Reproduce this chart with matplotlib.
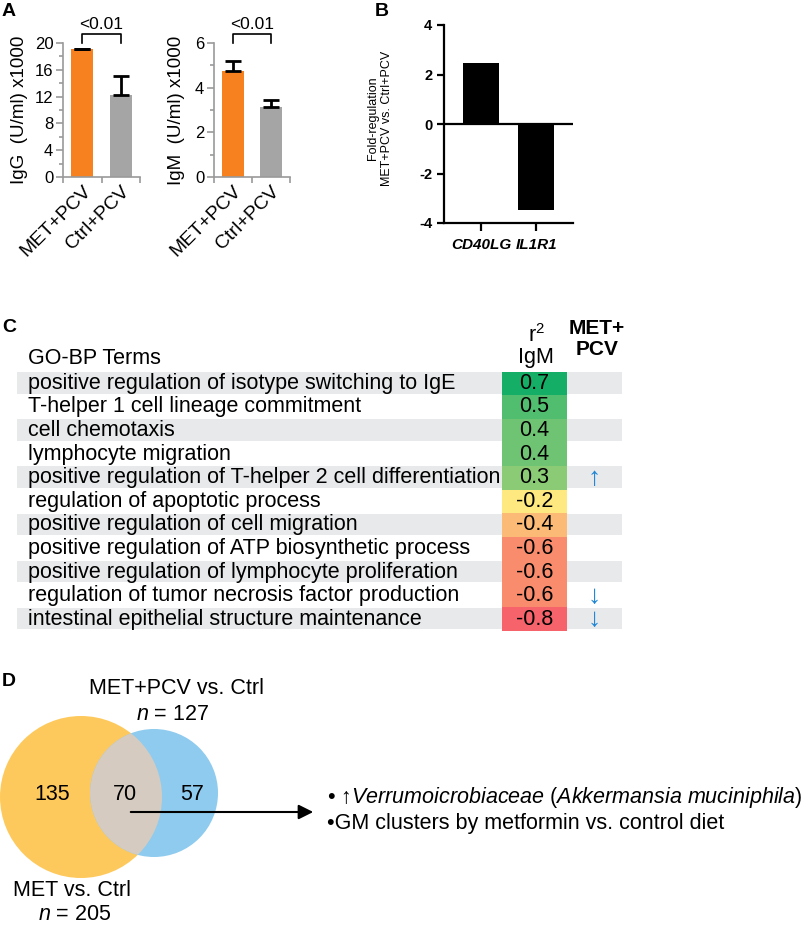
import matplotlib
matplotlib.use("Agg")
import matplotlib.pyplot as plt
import numpy as np
from matplotlib.colors import LinearSegmentedColormap, Normalize
from matplotlib.patches import Circle
from matplotlib.transforms import ScaledTranslation

plt.rcParams['font.family'] = ['Liberation Sans', 'DejaVu Sans']
plt.rcParams['mathtext.fontset'] = 'custom'
plt.rcParams['mathtext.rm'] = 'Liberation Sans'
plt.rcParams['mathtext.it'] = 'Liberation Sans:italic'
plt.rcParams['axes.unicode_minus'] = False

# ---- data ----
groups = ['MET+PCV', 'Ctrl+PCV']
igg_mean = [19.05, 12.2]
igg_err = [0.05, 2.85]
igm_mean = [4.76, 3.14]
igm_err = [0.45, 0.33]
p_label = '<0.01'

genes = ['CD40LG', 'IL1R1']
fold_reg = [2.45, -3.47]

go_terms = ['positive regulation of isotype switching to IgE',
            'T-helper 1 cell lineage commitment',
            'cell chemotaxis',
            'lymphocyte migration',
            'positive regulation of T-helper 2 cell differentiation',
            'regulation of apoptotic process',
            'positive regulation of cell migration',
            'positive regulation of ATP biosynthetic process',
            'positive regulation of lymphocyte proliferation',
            'regulation of tumor necrosis factor production',
            'intestinal epithelial structure maintenance']
r2_igm = [0.7, 0.5, 0.4, 0.4, 0.3, -0.2, -0.4, -0.6, -0.6, -0.6, -0.8]
met_pcv_dir = ['', '', '', '', '\u2191', '', '', '', '', '\u2193', '\u2193']

venn_only_met = 135
venn_shared = 70
venn_only_pcv = 57
venn_notes = ['\u2022 \u2191$\\mathit{Verrumoicrobiaceae}$ ($\\mathit{Akkermansia\\ muciniphila}$)',
              '\u2022GM clusters by metformin vs. control diet']

W, H = 809, 926
fig = plt.figure(figsize=(W / 100, H / 100), dpi=100)


def rect(l, t, r, b):
    return [l / W, 1 - b / H, (r - l) / W, (b - t) / H]


# pixel overlay for labels, table and venn
ov = fig.add_axes([0, 0, 1, 1])
ov.set_xlim(0, W)
ov.set_ylim(H, 0)
ov.axis('off')

orange = '#f7801f'
grey = '#a5a5a5'
axcol = '#9a9a9a'


def igbar(pos, means, errs, ymax, step, ylabel, labx):
    ax = fig.add_axes(rect(*pos))
    x = np.arange(len(groups))
    ax.bar(x, means, width=0.56, color=[orange, grey], zorder=2)
    ax.errorbar(x, means, yerr=[np.zeros(len(errs)), errs], fmt='none', ecolor='k',
                elinewidth=2, capsize=6, capthick=2, zorder=3)
    ax.set_xlim(-0.5, 1.5)
    ax.set_ylim(0, ymax)
    ax.set_yticks(np.arange(0, ymax + 0.01, step))
    ax.set_yticks(np.arange(step / 2, ymax, step), minor=True)
    ax.set_xticks([-0.5, 0.5, 1.5], minor=True)
    ax.set_xticks(x)
    ax.set_xticklabels(groups, rotation=45, ha='right', va='top', rotation_mode='anchor', fontsize=14)
    off = ScaledTranslation(9 / 100, -2 / 100, fig.dpi_scale_trans)
    for lb in ax.get_xticklabels():
        lb.set_transform(lb.get_transform() + off)
    ax.tick_params(axis='x', which='major', length=0, pad=4)
    ax.tick_params(axis='x', which='minor', length=4, color=axcol, width=1.2)
    ax.tick_params(axis='y', which='major', length=5, color=axcol, width=1.2, labelsize=12, pad=2)
    ax.tick_params(axis='y', which='minor', length=3, color=axcol, width=1.2)
    for s in ['top', 'right']:
        ax.spines[s].set_visible(False)
    for s in ['left', 'bottom']:
        ax.spines[s].set_color(axcol)
        ax.spines[s].set_linewidth(1.2)
    ax.set_ylabel(ylabel, fontsize=13.5)
    ax.yaxis.set_label_coords(labx, 0.5)
    # significance bracket
    top = ymax * 1.07
    ax.plot([0, 0, 1, 1], [ymax, top, top, ymax], color='k', lw=1.2, clip_on=False)
    ax.text(0.5, top + ymax * 0.01, p_label, ha='center', va='bottom', fontsize=12.5)
    ax.patch.set_alpha(0)
    return ax


igbar((63, 43, 140, 177), igg_mean, igg_err, 20, 4, 'IgG  (U/ml) x1000', -0.45)
igbar((214, 43, 290, 177), igm_mean, igm_err, 6, 2, 'IgM  (U/ml) x1000', -0.38)

# ---- panel B ----
axb = fig.add_axes(rect(444, 25, 573, 223))
xb = np.arange(len(genes))
axb.bar(xb, fold_reg, width=0.65, color='k')
axb.axhline(0, color='k', lw=1.6)
axb.set_xlim(-0.67, 1.67)
axb.set_ylim(-4, 4)
axb.set_yticks([-4, -2, 0, 2, 4])
axb.set_xticks(xb)
axb.set_xticklabels(genes, fontsize=11, fontweight='bold', style='italic')
axb.tick_params(axis='y', length=5, width=1.6, labelsize=10.5)
axb.tick_params(axis='x', length=6, width=1.6, pad=5)
for lb in axb.get_yticklabels():
    lb.set_fontweight('bold')
for s in ['top', 'right']:
    axb.spines[s].set_visible(False)
for s in ['left', 'bottom']:
    axb.spines[s].set_linewidth(1.6)
axb.patch.set_alpha(0)
ov.text(380, 118, 'Fold-regulation\nMET+PCV vs. Ctrl+PCV', rotation=90, ha='center', va='center',
        fontsize=9, linespacing=1.25)

# panel letters
for lt, (px, py) in zip('ABCD', [(2, 12), (375, 12), (2, 327), (2, 681)]):
    ov.text(px, py, lt, fontsize=14, fontweight='bold', ha='left', va='center')

# ---- panel C ----
axc = fig.add_axes(rect(17, 371.6, 622, 631))
n = len(go_terms)
axc.set_xlim(17, 622)
axc.set_ylim(n, 0)
axc.axis('off')
for i in range(0, n, 2):
    axc.axhspan(i + 0.02, i + 0.93, color='#e8e9eb', lw=0, zorder=0)
cmap = LinearSegmentedColormap.from_list(
    'r2', [(0.0, '#f6636a'), (0.2 / 1.5, '#f88c6c'), (0.6 / 1.5, '#fde97f'),
           (1.1 / 1.5, '#8ccb76'), (1.0, '#14ae67')])
axc.pcolormesh([502, 567], np.arange(n + 1), np.array(r2_igm).reshape(-1, 1),
               cmap=cmap, norm=Normalize(-0.8, 0.7), zorder=1)
for i, (term, v, d) in enumerate(zip(go_terms, r2_igm, met_pcv_dir)):
    axc.text(28, i + 0.5, term, fontsize=15.5, va='center', ha='left', zorder=2)
    axc.text(534.5, i + 0.5, f'{v:.1f}', fontsize=15.5, va='center', ha='center', zorder=2)
    if d:
        axc.text(594, i + 0.5, d, fontsize=19, va='center', ha='center', color='#1f86d6', zorder=2)

ov.text(28, 359, 'GO-BP Terms', fontsize=15.5, va='center', ha='left')
ov.text(536, 358, 'IgM', fontsize=15.5, va='center', ha='center')
ov.text(536, 336, '$\\mathregular{r^2}$', fontsize=15.5, va='center', ha='center')
ov.text(597, 339, 'MET+\nPCV', fontsize=15, fontweight='bold', va='center', ha='center',
        linespacing=1.15)

# ---- panel D: venn ----
c_met = Circle((81, 797), 81, color='#fec95c', lw=0)
c_pcv = Circle((154, 793), 64, color='#8ecbee', lw=0)
ov.add_patch(c_met)
ov.add_patch(c_pcv)
c_both = Circle((154, 793), 64, color='#d5cbc1', lw=0)
ov.add_patch(c_both)
c_both.set_clip_path(c_met)
for val, px in zip([venn_only_met, venn_shared, venn_only_pcv], [52, 125, 192]):
    ov.text(px, 795, str(val), fontsize=15.5, ha='center', va='center')
ov.text(177, 688, 'MET+PCV vs. Ctrl', fontsize=15.5, ha='center', va='center')
ov.text(173, 715, f'$\\mathit{{n}}$ = {venn_shared + venn_only_pcv}', fontsize=15.5, ha='center', va='center')
ov.text(72, 890, 'MET vs. Ctrl', fontsize=15.5, ha='center', va='center')
ov.text(75, 915, f'$\\mathit{{n}}$ = {venn_only_met + venn_shared}', fontsize=15.5, ha='center', va='center')
ov.annotate('', xy=(316, 812), xytext=(128, 812),
            arrowprops=dict(arrowstyle='-|>', color='k', lw=1.5, mutation_scale=22))
for j, note in enumerate(venn_notes):
    ov.text(327, 798 + 26 * j, note, fontsize=15.5, ha='left', va='center')

fig.savefig('out.png', dpi=100)
